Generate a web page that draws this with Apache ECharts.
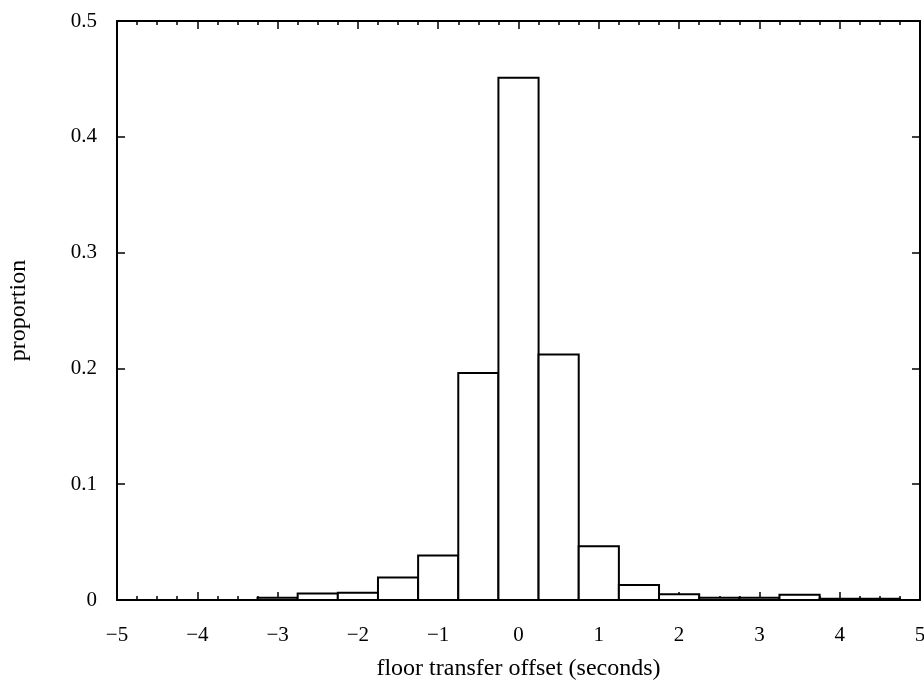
<!DOCTYPE html>
<html>
<head>
<meta charset="utf-8">
<script src="https://cdn.jsdelivr.net/npm/echarts@6/dist/echarts.min.js"></script>
<style>
html, body { margin: 0; padding: 0; background: #fff; }
#main { width: 924px; height: 682px; }
</style>
</head>
<body>
<div id="main"></div>
<script>
// histogram bins: centre of each bin (seconds) and the proportion in it
var binCentres = [-3, -2.5, -2, -1.5, -1, -0.5, 0, 0.5, 1, 1.5, 2, 2.5, 3, 3.5, 4, 4.5];
var proportions = [0.002, 0.0057, 0.0062, 0.0195, 0.0385, 0.196, 0.451, 0.212, 0.0465, 0.013, 0.005, 0.002, 0.002, 0.0045, 0.001, 0.001];
var binWidth = 0.5;

var xLabels = ['-5', '-4', '-3', '-2', '-1', '0', '1', '2', '3', '4', '5'];
var yLabels = ['0', '0.1', '0.2', '0.3', '0.4', '0.5'];

var font = 'Liberation Serif';
var black = '#000';

var data = [];
for (var i = 0; i < binCentres.length; i++) {
	data.push([binCentres[i], proportions[i]]);
}

var myChart = echarts.init(document.getElementById('main'));

// shared look of the frame axes
function frameX(pos, withLabels) {
	return {
		type : 'value',
		position : pos,
		min : -5,
		max : 5,
		interval : 1,
		axisLine : { show : true, onZero : false, lineStyle : { color : black, width : 2 } },
		axisTick : { show : true, inside : true, length : 8, lineStyle : { color : black, width : 1.5 } },
		minorTick : { show : true, splitNumber : 4, length : 4, lineStyle : { color : black, width : 1.5 } },
		splitLine : { show : false },
		axisLabel : {
			show : withLabels,
			margin : 25,
			color : black,
			fontFamily : font,
			fontSize : 21,
			formatter : function (v) {
				var s = xLabels[Math.round(v) + 5];
				return s.replace('-', '\u2212');
			}
		}
	};
}

function frameY(pos, withLabels) {
	return {
		type : 'value',
		position : pos,
		min : 0,
		max : 0.5,
		interval : 0.1,
		axisLine : { show : true, onZero : false, lineStyle : { color : black, width : 2 } },
		axisTick : { show : true, inside : true, length : 8, lineStyle : { color : black, width : 1.5 } },
		splitLine : { show : false },
		axisLabel : {
			show : withLabels,
			margin : 20,
			color : black,
			fontFamily : font,
			fontSize : 21,
			formatter : function (v) {
				return yLabels[Math.round(v * 10)];
			}
		}
	};
}

var xBottom = frameX('bottom', true);
xBottom.name = 'floor transfer offset (seconds)';
xBottom.nameLocation = 'middle';
xBottom.nameGap = 57;
xBottom.nameTextStyle = { color : black, fontFamily : font, fontSize : 24 };

var yLeft = frameY('left', true);
yLeft.name = 'proportion';
yLeft.nameLocation = 'middle';
yLeft.nameGap = 86;
yLeft.nameRotate = 90;
yLeft.nameTextStyle = { color : black, fontFamily : font, fontSize : 24 };

var option = {
	animation : false,
	backgroundColor : '#fff',
	grid : { left : 117, right : 4, top : 21, bottom : 82, containLabel : false, outerBoundsMode : 'none' },
	xAxis : [ xBottom, frameX('top', false) ],
	yAxis : [ yLeft, frameY('right', false) ],
	series : [ {
		type : 'custom',
		xAxisIndex : 0,
		yAxisIndex : 0,
		data : data,
		renderItem : function (params, api) {
			var c = api.value(0);
			var v = api.value(1);
			var p0 = api.coord([c - binWidth / 2, v]);
			var p1 = api.coord([c + binWidth / 2, 0]);
			return {
				type : 'rect',
				shape : { x : p0[0], y : p0[1], width : p1[0] - p0[0], height : p1[1] - p0[1] },
				style : { fill : '#fff', stroke : black, lineWidth : 2 }
			};
		}
	} ]
};

myChart.setOption(option);
</script>
</body>
</html>
